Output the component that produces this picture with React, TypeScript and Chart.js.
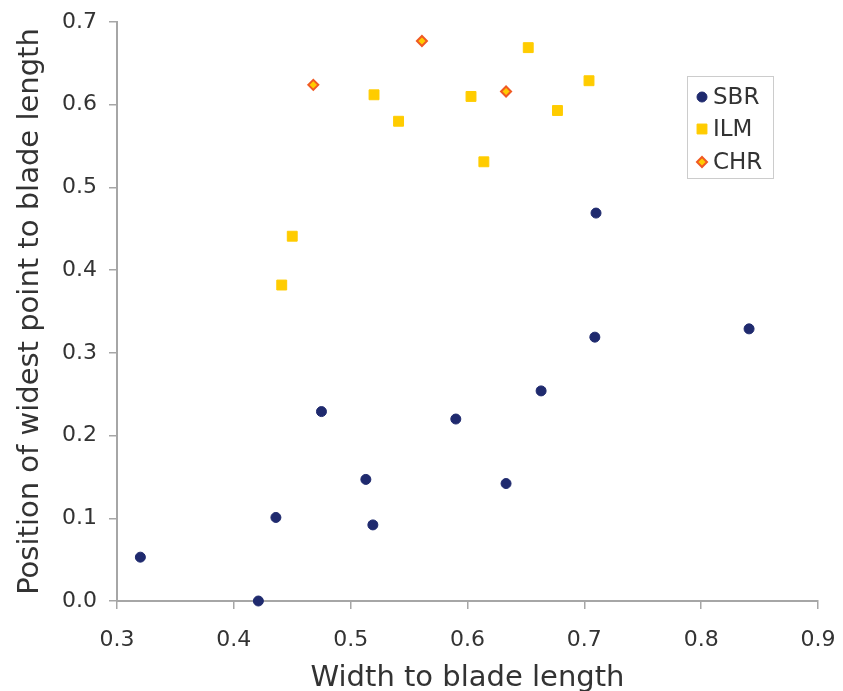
import React, { useEffect, useRef } from "react";
import { Chart, registerables } from "chart.js";
import { drawPoint } from "chart.js/helpers";

Chart.register(...registerables);

const sbrX = [0.320, 0.421, 0.436, 0.475, 0.513, 0.519, 0.590, 0.633, 0.663, 0.709, 0.710, 0.841];
const sbrY = [0.053, 0.000, 0.101, 0.229, 0.147, 0.092, 0.220, 0.142, 0.254, 0.319, 0.469, 0.329];

const ilmX = [0.441, 0.450, 0.520, 0.541, 0.603, 0.614, 0.652, 0.677, 0.704];
const ilmY = [0.382, 0.441, 0.612, 0.580, 0.610, 0.531, 0.669, 0.593, 0.629];

const chrX = [0.468, 0.561, 0.633];
const chrY = [0.624, 0.677, 0.616];

const seriesNames = ["SBR", "ILM", "CHR"];
const xTitle = "Width to blade length";
const yTitle = "Position of widest point to blade length";

const FONT = "'DejaVu Sans', Verdana, sans-serif";
const TEXT = "#333333";
const AXIS = "#a6a6a6";

const toPoints = (xs: number[], ys: number[]) => xs.map((x, i) => ({ x, y: ys[i] }));

const legendPlugin = {
  id: "insideLegend",
  afterDraw(chart: any) {
    const ctx = chart.ctx as CanvasRenderingContext2D;
    ctx.save();
    const bx = 687.5, by = 76.5, bw = 86, bh = 102;
    ctx.fillStyle = "#ffffff";
    ctx.fillRect(bx, by, bw, bh);
    ctx.strokeStyle = "#cccccc";
    ctx.lineWidth = 1;
    ctx.strokeRect(bx, by, bw, bh);
    const rows = [97, 129, 162];
    chart.data.datasets.forEach((ds: any, i: number) => {
      const y = rows[i];
      ctx.fillStyle = ds.backgroundColor;
      ctx.strokeStyle = ds.borderColor;
      ctx.lineWidth = ds.borderWidth;
      drawPoint(ctx, {
        pointStyle: ds.pointStyle,
        radius: ds.pointRadius,
        borderWidth: ds.borderWidth,
        rotation: 0,
      } as any, 702, y);
      ctx.fillStyle = TEXT;
      ctx.font = `23px ${FONT}`;
      ctx.textBaseline = "middle";
      ctx.textAlign = "left";
      ctx.fillText(ds.label, 713, y + 1);
    });
    ctx.restore();
  },
};

export default function App() {
  const ref = useRef<HTMLCanvasElement>(null);
  useEffect(() => {
    document.body.style.margin = "0";
    const chart = new Chart(ref.current!, {
      type: "scatter",
      data: {
        datasets: [
          {
            label: seriesNames[0],
            data: toPoints(sbrX, sbrY),
            pointStyle: "circle",
            pointRadius: 5,
            backgroundColor: "#1f2a6e",
            borderColor: "#1f2a6e",
            borderWidth: 1,
            clip: false,
          },
          {
            label: seriesNames[1],
            data: toPoints(ilmX, ilmY),
            pointStyle: "rect",
            pointRadius: 7,
            backgroundColor: "#ffcc00",
            borderColor: "#ffcc00",
            borderWidth: 1,
            clip: false,
          },
          {
            label: seriesNames[2],
            data: toPoints(chrX, chrY),
            pointStyle: "rectRot",
            pointRadius: 5,
            backgroundColor: "#ffcc00",
            borderColor: "#f05a23",
            borderWidth: 2,
            clip: false,
          },
        ] as any,
      },
      options: {
        animation: false,
        responsive: false,
        layout: { padding: { top: 22, right: 25, left: 0, bottom: 0 } },
        plugins: { legend: { display: false }, tooltip: { enabled: false } },
        scales: {
          x: {
            type: "linear",
            min: 0.3,
            max: 0.9,
            afterFit: (s: any) => { s.height = 90; s.paddingLeft = 0; s.paddingRight = 0; },
            border: { display: true, color: AXIS, width: 2 },
            grid: { display: true, drawOnChartArea: false, drawTicks: true, tickLength: 8, color: AXIS, lineWidth: 1.5 },
            ticks: {
              stepSize: 0.1,
              padding: 18,
              color: TEXT,
              font: { family: FONT, size: 22 },
              callback: (v: any) => Number(v).toFixed(1),
            },
            title: {
              display: true,
              text: xTitle,
              color: TEXT,
              font: { family: FONT, size: 29, lineHeight: 1 },
              padding: { top: 0, bottom: -2 },
            },
          },
          y: {
            type: "linear",
            min: 0,
            max: 0.7,
            afterFit: (s: any) => { s.width = 117; s.paddingTop = 0; s.paddingBottom = 0; },
            border: { display: true, color: AXIS, width: 2 },
            grid: { display: true, drawOnChartArea: false, drawTicks: true, tickLength: 8, color: AXIS, lineWidth: 1.5 },
            ticks: {
              stepSize: 0.1,
              padding: 12,
              color: TEXT,
              font: { family: FONT, size: 22 },
              callback: (v: any) => Number(v).toFixed(1),
            },
            title: {
              display: true,
              text: yTitle,
              color: TEXT,
              font: { family: FONT, size: 29, lineHeight: 1 },
              padding: { top: 16, bottom: 0 },
            },
          },
        },
      } as any,
      plugins: [legendPlugin],
    });
    return () => chart.destroy();
  }, []);
  return (
    <div style={{ position: "absolute", left: 0, top: 0, width: 843, height: 691 }}>
      <canvas ref={ref} width={843} height={691} />
    </div>
  );
}
